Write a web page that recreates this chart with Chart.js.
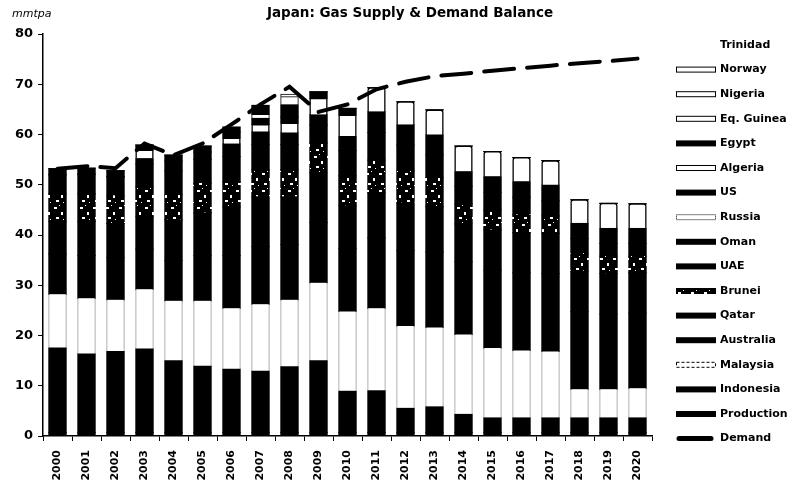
<!DOCTYPE html>
<html>
<head>
<meta charset="utf-8">
<title>Japan: Gas Supply &amp; Demand Balance</title>
<script src="https://cdn.jsdelivr.net/npm/chart.js@4.4.0/dist/chart.umd.min.js"></script>
<style>
  html, body { margin: 0; padding: 0; background: #fff; }
  #wrap { position: relative; width: 787px; height: 490px; overflow: hidden; }
  #title { position: absolute; left: 210px; width: 400px; top: 4px; text-align: center;
           font: bold 13.5px "DejaVu Sans", sans-serif; color: #000; }
  #unit { position: absolute; left: 12px; top: 7px; font: italic 11px "DejaVu Sans", sans-serif; color: #000; }
  canvas { position: absolute; left: 0; top: 0; }
</style>
</head>
<body>
<div id="wrap">
  <canvas id="balanceChart" width="787" height="490"></canvas>
  <div id="title">Japan: Gas Supply &amp; Demand Balance</div>
  <div id="unit">mmtpa</div>
</div>
<script>
const years = ["2000","2001","2002","2003","2004","2005","2006","2007","2008","2009","2010",
               "2011","2012","2013","2014","2015","2016","2017","2018","2019","2020"];

// supply by source, mmtpa (stacked bottom to top)
const production = [0.7,0.7,0.7,0.7,0.7,0.7,0.7,0.7,0.7,0.7,0.7,0.7,0.7,0.7,0.7,0.7,0.7,0.7,0.7,0.7,0.7];
const indonesia  = [16.8,15.6,16.1,16.6,14.3,13.2,12.6,12.2,13.1,14.3,8.2,8.3,4.8,5.1,3.6,2.9,2.9,2.9,2.9,2.9,2.9];
const malaysia   = [10.7,11.1,10.3,11.9,11.9,13.0,12.1,13.3,13.3,15.5,15.9,16.4,16.4,15.8,15.9,13.9,13.4,13.2,5.7,5.7,5.9];
const australia  = [8.0,8.5,8.4,8.0,8.0,9.0,10.5,11.5,11.0,12.0,12.5,14.0,15.0,15.0,14.5,15.5,15.5,15.5,15.5,15.0,15.0];
const qatar      = [6.5,6.8,6.8,6.4,8.1,8.5,9.7,9.9,9.5,9.8,8.5,9.0,9.5,9.0,7.5,8.0,8.0,8.0,8.0,8.0,8.0];
const brunei     = [5.5,5.5,5.5,6.0,5.0,5.9,5.0,5.4,5.4,6.0,6.0,6.5,6.5,5.8,4.0,4.0,3.5,3.5,3.5,3.5,3.3];
const uae        = [3.8,3.9,3.8,4.5,4.8,4.8,5.0,5.0,5.0,3.6,5.0,5.5,5.0,4.5,3.5,3.5,3.5,3.0,3.0,2.5,2.5];
const oman       = [0,0,0,1.1,1.9,1.4,2.5,2.5,2.3,2.0,2.8,4.1,4.0,4.0,2.9,3.1,3.1,3.1,3.0,3.0,3.0];
const russia     = [0,0,0,1.7,0,0,1.2,1.5,2.0,3.3,4.3,4.8,4.6,5.0,5.1,5.0,4.8,4.9,4.7,5.0,4.9];
const us         = [1.2,1.2,1.2,1.0,1.2,1.2,1.2,1.2,1.2,1.3,1.3,0,0,0,0,0,0,0,0,0,0];
const algeria    = [0,0,0,0,0,0,0,0.8,0,0,0,0,0,0,0,0,0,0,0,0,0];
const egypt      = [0,0,0,0,0,0,1.0,1.8,2.4,0,0,0,0,0,0,0,0,0,0,0,0];
const eqGuinea   = [0,0,0,0,0,0,0,0,1.6,0,0,0,0,0,0,0,0,0,0,0,0];
const nigeria    = [0,0,0,0,0,0,0,0,0.5,0,0,0,0,0,0,0,0,0,0,0,0];
const norway     = [0,0,0,0,0,0,0,0,0,0,0,0,0,0,0,0,0,0,0,0,0];
const trinidad   = [0,0,0,0,0,0,0,0,0,0,0,0,0,0,0,0,0,0,0,0,0];

const demand = [53.2,53.7,53.3,58.2,55.9,58.2,62.0,66.0,69.5,64.5,66.0,69.0,70.5,71.6,72.1,72.7,73.2,73.7,74.2,74.6,75.1];

const yTicks = [0,10,20,30,40,50,60,70,80];

const FONT = "DejaVu Sans";

// black fill with a few white flecks
function speckle() {
    let c = document.createElement("canvas");
    c.width = 13; c.height = 17;
    let g = c.getContext("2d");
    g.fillStyle = "#000";
    g.fillRect(0, 0, 13, 17);
    g.fillStyle = "#fff";
    [[2,3,3,2],[9,8,2,3],[4,13,3,2],[11,15,1,1],[7,1,1,1]].forEach(r => g.fillRect(r[0], r[1], r[2], r[3]));
    return g.createPattern(c, "repeat");
}

function solid(label, data) {
    return { type: "bar", label: label, data: data, stack: "supply",
             backgroundColor: "#000", borderWidth: 0 };
}

function hollow(label, data, extra) {
    return Object.assign({ type: "bar", label: label, data: data, stack: "supply",
             backgroundColor: "#fff", borderColor: "#000", borderWidth: 1 }, extra || {});
}

const datasets = [
    { type: "line", label: "Demand", data: demand, stack: "demand",
      borderColor: "#000", backgroundColor: "#000", borderWidth: 4,
      borderDash: [30, 13], borderCapStyle: "round", pointRadius: 0, tension: 0, fill: false },
    solid("Production", production),
    solid("Indonesia", indonesia),
    hollow("Malaysia", malaysia, { borderColor: "rgba(0,0,0,0.4)",
           borderWidth: { left: 1, right: 1, top: 0, bottom: 0 }, legendDash: [3, 2] }),
    solid("Australia", australia),
    solid("Qatar", qatar),
    Object.assign(solid("Brunei", brunei), { backgroundColor: speckle() }),
    solid("UAE", uae),
    solid("Oman", oman),
    hollow("Russia", russia, { borderWidth: 1.5, borderRadius: 3, legendDash: [1, 1] }),
    solid("US", us),
    hollow("Algeria", algeria),
    solid("Egypt", egypt),
    hollow("Eq. Guinea", eqGuinea),
    hollow("Nigeria", nigeria),
    hollow("Norway", norway),
    hollow("Trinidad", trinidad, { borderWidth: 0 })
];

// legend column on the right, Trinidad at the top down to Demand
const sideLegend = {
    id: "sideLegend",
    afterDraw(chart) {
        let ctx = chart.ctx;
        let items = chart.data.datasets.slice().reverse();
        ctx.save();
        ctx.font = "bold 11px '" + FONT + "'";
        ctx.textBaseline = "middle";
        items.forEach((ds, i) => {
            let y = 45 + i * 24.6;
            if (ds.type === "line") {
                ctx.strokeStyle = "#000";
                ctx.lineWidth = 5;
                ctx.lineCap = "round";
                ctx.beginPath();
                ctx.moveTo(679, y);
                ctx.lineTo(711, y);
                ctx.stroke();
            } else if (ds.borderWidth !== 0 || ds.backgroundColor !== "#fff") {
                ctx.fillStyle = ds.backgroundColor;
                ctx.fillRect(676, y - 3, 40, 6);
                if (ds.borderWidth) {
                    ctx.strokeStyle = "#000";
                    ctx.lineWidth = 1;
                    ctx.setLineDash(ds.legendDash || []);
                    ctx.strokeRect(676.5, y - 2.5, 39, 5);
                    ctx.setLineDash([]);
                }
            }
            ctx.fillStyle = "#000";
            ctx.fillText(ds.label, 720, y);
        });
        ctx.restore();
    }
};

new Chart(document.getElementById("balanceChart"), {
    data: { labels: years, datasets: datasets },
    plugins: [sideLegend],
    options: {
        responsive: false,
        animation: false,
        layout: { padding: { left: 0, right: 135, top: 34, bottom: 0 } },
        plugins: {
            legend: { display: false },
            title: { display: false },
            tooltip: { enabled: false }
        },
        datasets: {
            // slight inflate so stacked black segments merge without seams
            bar: { barPercentage: 0.6, categoryPercentage: 1.0, inflateAmount: 0.5 }
        },
        scales: {
            x: {
                stacked: true,
                offset: true,
                grid: { offset: true, drawOnChartArea: false, tickLength: 5, color: "#000" },
                border: { color: "#000", width: 1.5 },
                ticks: { minRotation: 90, maxRotation: 90, autoSkip: false, padding: 9, color: "#000",
                         font: { family: FONT, weight: "bold", size: 11 } },
                afterFit: s => { s.height = 54; }
            },
            y: {
                stacked: true,
                min: 0,
                max: 80,
                afterBuildTicks: s => { s.ticks = yTicks.map(v => ({ value: v })); },
                grid: { drawOnChartArea: false, tickLength: 5, color: "#000" },
                border: { color: "#000", width: 1.5 },
                ticks: { padding: 5, color: "#000", font: { family: FONT, weight: "bold", size: 13 } },
                afterFit: s => { s.width = 43; }
            }
        }
    }
});
</script>
</body>
</html>
